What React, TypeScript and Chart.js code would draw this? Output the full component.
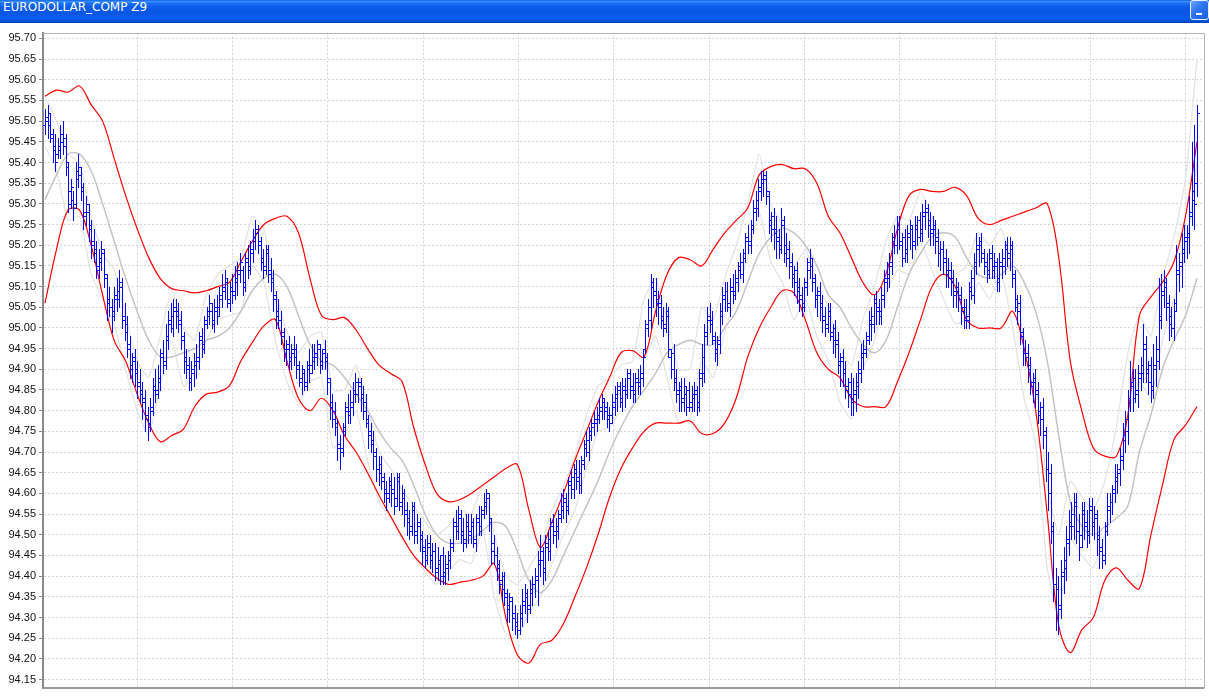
import React, { useEffect, useRef } from "react";
import { Chart, registerables } from "chart.js";
Chart.register(...registerables);

const title = "EURODOLLAR_COMP Z9";

const opens = [
  95.49, 95.50, 95.52, 95.46, 95.44, 95.42, 95.43, 95.47, 95.46, 95.39, 95.33, 95.31, 95.30, 95.36, 95.37,
  95.33, 95.28, 95.28, 95.24, 95.21, 95.19, 95.14, 95.16, 95.18, 95.12, 95.07, 95.05, 95.04, 95.07, 95.07,
  95.10, 95.03, 95.01, 94.95, 94.90, 94.92, 94.90, 94.87, 94.85, 94.83, 94.79, 94.77, 94.81, 94.86, 94.84,
  94.87, 94.94, 94.92, 94.97, 95.02, 95.00, 95.05, 95.04, 95.02, 94.97, 94.93, 94.91, 94.87, 94.89, 94.91,
  94.92, 94.98, 94.96, 95.02, 95.04, 95.04, 95.01, 95.04, 95.05, 95.07, 95.09, 95.11, 95.06, 95.10, 95.09,
  95.11, 95.14, 95.14, 95.11, 95.17, 95.15, 95.18, 95.21, 95.23, 95.21, 95.17, 95.15, 95.19, 95.14, 95.12,
  95.08, 95.04, 95.02, 94.99, 94.94, 94.96, 94.92, 94.95, 94.95, 94.91, 94.87, 94.89, 94.86, 94.91, 94.91,
  94.92, 94.93, 94.95, 94.91, 94.95, 94.93, 94.87, 94.82, 94.80, 94.76, 94.71, 94.71, 94.76, 94.81, 94.79,
  94.81, 94.85, 94.84, 94.87, 94.84, 94.82, 94.77, 94.75, 94.73, 94.70, 94.66, 94.67, 94.63, 94.60, 94.60,
  94.63, 94.61, 94.59, 94.64, 94.57, 94.59, 94.56, 94.54, 94.52, 94.57, 94.50, 94.52, 94.50, 94.47, 94.45,
  94.48, 94.44, 94.46, 94.41, 94.43, 94.45, 94.40, 94.42, 94.44, 94.48, 94.53, 94.51, 94.55, 94.51, 94.49,
  94.53, 94.50, 94.52, 94.48, 94.54, 94.52, 94.56, 94.57, 94.59, 94.53, 94.48, 94.45, 94.43, 94.38, 94.40,
  94.35, 94.32, 94.34, 94.31, 94.29, 94.27, 94.30, 94.33, 94.35, 94.33, 94.36, 94.38, 94.39, 94.44, 94.44,
  94.42, 94.48, 94.46, 94.53, 94.51, 94.51, 94.55, 94.56, 94.58, 94.57, 94.63, 94.61, 94.66, 94.64, 94.62,
  94.68, 94.72, 94.70, 94.75, 94.77, 94.77, 94.78, 94.80, 94.82, 94.81, 94.79, 94.79, 94.81, 94.83, 94.85,
  94.82, 94.85, 94.85, 94.89, 94.86, 94.84, 94.88, 94.87, 94.88, 94.95, 95.01, 95.02, 95.11, 95.09, 95.07,
  95.06, 95.03, 95.01, 95.03, 94.93, 94.94, 94.88, 94.84, 94.86, 94.82, 94.84, 94.85, 94.81, 94.83, 94.85,
  94.82, 94.89, 94.89, 94.98, 95.02, 95.02, 94.97, 94.94, 94.96, 95.03, 95.07, 95.09, 95.05, 95.09, 95.09,
  95.11, 95.15, 95.13, 95.18, 95.22, 95.20, 95.25, 95.29, 95.29, 95.33, 95.35, 95.37, 95.32, 95.25, 95.27,
  95.24, 95.22, 95.20, 95.25, 95.20, 95.19, 95.16, 95.12, 95.14, 95.10, 95.08, 95.06, 95.11, 95.16, 95.15,
  95.11, 95.07, 95.09, 95.06, 95.03, 95.01, 95.04, 94.98, 95.00, 94.97, 94.91, 94.93, 94.90, 94.85, 94.87,
  94.82, 94.84, 94.86, 94.89, 94.93, 94.95, 94.98, 95.01, 95.01, 95.07, 95.05, 95.03, 95.07, 95.12, 95.12,
  95.16, 95.22, 95.20, 95.25, 95.20, 95.22, 95.18, 95.22, 95.24, 95.21, 95.24, 95.26, 95.23, 95.27, 95.29,
  95.26, 95.24, 95.24, 95.22, 95.18, 95.19, 95.17, 95.14, 95.14, 95.12, 95.09, 95.09, 95.08, 95.05, 95.05,
  95.02, 95.10, 95.08, 95.15, 95.19, 95.21, 95.17, 95.16, 95.14, 95.18, 95.15, 95.15, 95.11, 95.15, 95.15,
  95.20, 95.17, 95.19, 95.12, 95.05, 95.06, 94.98, 94.95, 94.93, 94.91, 94.86, 94.88, 94.85, 94.79, 94.81,
  94.74, 94.66, 94.65, 94.51, 94.38, 94.37, 94.33, 94.40, 94.42, 94.48, 94.52, 94.52, 94.58, 94.51, 94.50,
  94.56, 94.53, 94.51, 94.57, 94.52, 94.54, 94.50, 94.47, 94.45, 94.52, 94.56, 94.58, 94.61, 94.63, 94.65,
  94.69, 94.73, 94.75, 94.83, 94.86, 94.88, 94.84, 94.89, 94.89, 94.96, 94.89, 94.91, 94.85, 94.91, 94.92,
  95.03, 95.08, 95.10, 95.06, 95.03, 95.00, 95.06, 95.13, 95.15, 95.18, 95.21, 95.23, 95.28, 95.33, 95.35,
];
const highs = [
  95.53, 95.54, 95.52, 95.48, 95.47, 95.46, 95.49, 95.50, 95.47, 95.40, 95.36, 95.33, 95.40, 95.42, 95.39,
  95.35, 95.32, 95.30, 95.26, 95.24, 95.21, 95.19, 95.21, 95.19, 95.13, 95.10, 95.07, 95.10, 95.12, 95.14,
  95.12, 95.06, 95.03, 94.98, 94.94, 94.95, 94.92, 94.90, 94.87, 94.85, 94.81, 94.83, 94.88, 94.90, 94.91,
  94.95, 94.97, 95.01, 95.04, 95.06, 95.07, 95.07, 95.06, 95.04, 94.99, 94.95, 94.93, 94.92, 94.94, 94.96,
  94.99, 95.00, 95.03, 95.05, 95.08, 95.06, 95.07, 95.08, 95.10, 95.13, 95.14, 95.12, 95.11, 95.13, 95.15,
  95.16, 95.18, 95.15, 95.18, 95.20, 95.21, 95.24, 95.26, 95.25, 95.22, 95.19, 95.20, 95.20, 95.17, 95.14,
  95.09, 95.07, 95.04, 95.00, 94.97, 94.98, 94.96, 94.98, 94.96, 94.92, 94.91, 94.90, 94.92, 94.95, 94.96,
  94.96, 94.97, 94.96, 94.95, 94.97, 94.94, 94.88, 94.84, 94.82, 94.78, 94.74, 94.77, 94.82, 94.84, 94.85,
  94.87, 94.89, 94.88, 94.88, 94.86, 94.84, 94.79, 94.77, 94.75, 94.71, 94.69, 94.69, 94.65, 94.63, 94.64,
  94.65, 94.64, 94.65, 94.65, 94.62, 94.61, 94.58, 94.56, 94.58, 94.58, 94.55, 94.54, 94.51, 94.49, 94.50,
  94.50, 94.48, 94.48, 94.47, 94.45, 94.47, 94.45, 94.46, 94.49, 94.54, 94.56, 94.57, 94.56, 94.54, 94.55,
  94.55, 94.55, 94.54, 94.55, 94.57, 94.57, 94.60, 94.61, 94.60, 94.54, 94.50, 94.47, 94.44, 94.41, 94.41,
  94.37, 94.36, 94.35, 94.33, 94.31, 94.33, 94.37, 94.38, 94.37, 94.39, 94.40, 94.42, 94.46, 94.50, 94.47,
  94.50, 94.51, 94.54, 94.55, 94.54, 94.56, 94.60, 94.61, 94.60, 94.64, 94.66, 94.67, 94.68, 94.68, 94.69,
  94.73, 94.75, 94.76, 94.78, 94.80, 94.81, 94.83, 94.84, 94.83, 94.82, 94.81, 94.84, 94.86, 94.87, 94.87,
  94.88, 94.88, 94.90, 94.90, 94.89, 94.89, 94.90, 94.91, 94.95, 95.02, 95.07, 95.13, 95.12, 95.12, 95.09,
  95.08, 95.05, 95.06, 95.05, 94.95, 94.96, 94.90, 94.87, 94.88, 94.88, 94.86, 94.87, 94.86, 94.87, 94.86,
  94.90, 94.96, 95.01, 95.05, 95.06, 95.04, 94.99, 94.98, 95.06, 95.10, 95.11, 95.11, 95.12, 95.13, 95.14,
  95.16, 95.18, 95.19, 95.23, 95.25, 95.26, 95.31, 95.33, 95.36, 95.38, 95.38, 95.38, 95.33, 95.28, 95.29,
  95.27, 95.24, 95.29, 95.27, 95.23, 95.21, 95.18, 95.15, 95.16, 95.12, 95.10, 95.12, 95.17, 95.19, 95.17,
  95.13, 95.10, 95.11, 95.08, 95.05, 95.06, 95.06, 95.01, 95.02, 94.99, 94.94, 94.95, 94.92, 94.88, 94.89,
  94.88, 94.89, 94.92, 94.96, 94.97, 94.99, 95.04, 95.05, 95.08, 95.09, 95.07, 95.10, 95.14, 95.16, 95.18,
  95.23, 95.25, 95.27, 95.27, 95.23, 95.24, 95.25, 95.26, 95.25, 95.27, 95.27, 95.28, 95.30, 95.31, 95.30,
  95.28, 95.27, 95.26, 95.24, 95.21, 95.21, 95.19, 95.17, 95.16, 95.14, 95.12, 95.11, 95.10, 95.07, 95.07,
  95.11, 95.14, 95.18, 95.23, 95.22, 95.23, 95.19, 95.18, 95.19, 95.20, 95.18, 95.17, 95.18, 95.19, 95.21,
  95.22, 95.22, 95.21, 95.14, 95.08, 95.08, 95.00, 94.97, 94.96, 94.93, 94.89, 94.90, 94.87, 94.82, 94.83,
  94.76, 94.70, 94.67, 94.53, 94.42, 94.40, 94.44, 94.47, 94.52, 94.56, 94.58, 94.60, 94.60, 94.55, 94.58,
  94.58, 94.56, 94.59, 94.59, 94.57, 94.56, 94.52, 94.49, 94.53, 94.60, 94.60, 94.62, 94.67, 94.67, 94.71,
  94.77, 94.80, 94.85, 94.92, 94.90, 94.90, 94.91, 94.93, 95.01, 94.98, 94.92, 94.93, 94.96, 94.98, 95.12,
  95.13, 95.14, 95.12, 95.08, 95.05, 95.07, 95.20, 95.18, 95.23, 95.25, 95.25, 95.32, 95.45, 95.49, 95.54,
];
const lows = [
  95.47, 95.46, 95.45, 95.40, 95.38, 95.41, 95.41, 95.42, 95.37, 95.28, 95.29, 95.26, 95.29, 95.34, 95.31,
  95.24, 95.25, 95.21, 95.17, 95.16, 95.12, 95.12, 95.14, 95.10, 95.02, 95.03, 94.99, 95.02, 95.04, 95.05,
  95.00, 94.97, 94.93, 94.88, 94.87, 94.86, 94.83, 94.82, 94.78, 94.75, 94.73, 94.75, 94.79, 94.82, 94.83,
  94.85, 94.89, 94.90, 94.95, 94.99, 94.98, 95.00, 94.99, 94.95, 94.89, 94.88, 94.85, 94.85, 94.86, 94.88,
  94.90, 94.93, 94.94, 95.00, 95.01, 95.00, 94.99, 95.01, 95.03, 95.05, 95.07, 95.05, 95.04, 95.06, 95.07,
  95.08, 95.11, 95.08, 95.09, 95.12, 95.13, 95.16, 95.19, 95.18, 95.14, 95.12, 95.13, 95.11, 95.09, 95.04,
  95.00, 95.00, 94.96, 94.92, 94.91, 94.90, 94.90, 94.91, 94.88, 94.86, 94.84, 94.85, 94.85, 94.87, 94.89,
  94.90, 94.91, 94.89, 94.90, 94.90, 94.84, 94.78, 94.76, 94.74, 94.68, 94.66, 94.69, 94.74, 94.77, 94.77,
  94.79, 94.82, 94.82, 94.80, 94.78, 94.76, 94.71, 94.70, 94.66, 94.63, 94.62, 94.61, 94.58, 94.56, 94.58,
  94.57, 94.55, 94.57, 94.56, 94.55, 94.52, 94.50, 94.49, 94.50, 94.48, 94.48, 94.46, 94.43, 94.42, 94.43,
  94.42, 94.41, 94.39, 94.39, 94.38, 94.38, 94.38, 94.39, 94.42, 94.46, 94.49, 94.49, 94.48, 94.46, 94.47,
  94.48, 94.48, 94.47, 94.46, 94.50, 94.50, 94.54, 94.55, 94.51, 94.43, 94.43, 94.39, 94.36, 94.34, 94.33,
  94.29, 94.29, 94.27, 94.26, 94.25, 94.26, 94.28, 94.31, 94.29, 94.31, 94.33, 94.35, 94.33, 94.40, 94.38,
  94.39, 94.44, 94.44, 94.48, 94.47, 94.49, 94.53, 94.54, 94.53, 94.55, 94.59, 94.59, 94.61, 94.60, 94.60,
  94.66, 94.69, 94.68, 94.73, 94.74, 94.75, 94.77, 94.78, 94.78, 94.76, 94.75, 94.77, 94.79, 94.80, 94.81,
  94.80, 94.81, 94.83, 94.83, 94.82, 94.82, 94.84, 94.84, 94.86, 94.94, 94.98, 95.00, 95.05, 95.03, 95.01,
  95.00, 94.98, 94.99, 94.93, 94.88, 94.85, 94.82, 94.80, 94.80, 94.80, 94.79, 94.80, 94.80, 94.80, 94.79,
  94.80, 94.86, 94.87, 94.96, 94.99, 94.96, 94.92, 94.91, 94.94, 95.01, 95.04, 95.04, 95.03, 95.06, 95.07,
  95.09, 95.12, 95.11, 95.16, 95.18, 95.18, 95.23, 95.26, 95.27, 95.31, 95.32, 95.30, 95.23, 95.21, 95.19,
  95.17, 95.17, 95.18, 95.16, 95.15, 95.12, 95.10, 95.08, 95.06, 95.04, 95.03, 95.04, 95.08, 95.12, 95.09,
  95.05, 95.03, 95.02, 94.99, 94.98, 94.99, 94.97, 94.94, 94.93, 94.89, 94.86, 94.86, 94.83, 94.81, 94.79,
  94.79, 94.80, 94.83, 94.87, 94.90, 94.93, 94.96, 94.97, 94.99, 95.01, 95.01, 95.01, 95.05, 95.09, 95.10,
  95.13, 95.18, 95.18, 95.19, 95.15, 95.16, 95.16, 95.19, 95.17, 95.19, 95.20, 95.21, 95.21, 95.24, 95.22,
  95.20, 95.20, 95.18, 95.15, 95.14, 95.13, 95.10, 95.10, 95.08, 95.05, 95.05, 95.04, 95.01, 95.00, 95.00,
  95.00, 95.07, 95.06, 95.13, 95.15, 95.16, 95.13, 95.11, 95.12, 95.12, 95.12, 95.09, 95.09, 95.12, 95.13,
  95.15, 95.14, 95.10, 95.04, 95.01, 94.96, 94.91, 94.91, 94.87, 94.84, 94.82, 94.81, 94.77, 94.74, 94.71,
  94.63, 94.56, 94.48, 94.34, 94.27, 94.26, 94.30, 94.36, 94.39, 94.45, 94.49, 94.49, 94.48, 94.44, 94.47,
  94.49, 94.47, 94.48, 94.50, 94.49, 94.45, 94.42, 94.42, 94.43, 94.50, 94.53, 94.55, 94.58, 94.60, 94.62,
  94.66, 94.70, 94.72, 94.80, 94.80, 94.82, 94.81, 94.85, 94.87, 94.87, 94.84, 94.82, 94.83, 94.86, 94.90,
  95.00, 95.05, 95.02, 94.97, 94.98, 94.97, 95.04, 95.09, 95.10, 95.16, 95.17, 95.18, 95.25, 95.24, 95.32,
];
const closes = [
  95.51, 95.49, 95.47, 95.43, 95.40, 95.44, 95.45, 95.44, 95.40, 95.30, 95.34, 95.29, 95.38, 95.39, 95.34,
  95.27, 95.30, 95.25, 95.20, 95.18, 95.15, 95.17, 95.19, 95.13, 95.06, 95.05, 95.03, 95.08, 95.09, 95.11,
  95.02, 94.99, 94.96, 94.91, 94.93, 94.89, 94.86, 94.84, 94.82, 94.78, 94.76, 94.80, 94.85, 94.85, 94.88,
  94.93, 94.91, 94.98, 95.01, 95.03, 95.04, 95.03, 95.01, 94.98, 94.92, 94.90, 94.88, 94.90, 94.92, 94.93,
  94.97, 94.95, 95.01, 95.03, 95.06, 95.02, 95.05, 95.03, 95.08, 95.10, 95.12, 95.07, 95.09, 95.08, 95.12,
  95.13, 95.16, 95.10, 95.16, 95.14, 95.19, 95.22, 95.24, 95.20, 95.16, 95.14, 95.18, 95.13, 95.11, 95.07,
  95.03, 95.02, 94.98, 94.95, 94.95, 94.93, 94.94, 94.93, 94.90, 94.88, 94.90, 94.87, 94.90, 94.89, 94.93,
  94.94, 94.96, 94.92, 94.94, 94.92, 94.88, 94.81, 94.78, 94.77, 94.72, 94.70, 94.75, 94.80, 94.80, 94.82,
  94.84, 94.87, 94.86, 94.83, 94.80, 94.78, 94.74, 94.72, 94.69, 94.66, 94.65, 94.64, 94.61, 94.59, 94.62,
  94.60, 94.57, 94.63, 94.58, 94.60, 94.55, 94.53, 94.51, 94.56, 94.51, 94.53, 94.49, 94.46, 94.44, 94.47,
  94.45, 94.46, 94.42, 94.44, 94.40, 94.41, 94.43, 94.45, 94.47, 94.52, 94.52, 94.54, 94.50, 94.48, 94.52,
  94.51, 94.53, 94.49, 94.53, 94.51, 94.55, 94.58, 94.60, 94.54, 94.46, 94.45, 94.42, 94.39, 94.37, 94.36,
  94.33, 94.35, 94.30, 94.28, 94.27, 94.31, 94.34, 94.36, 94.32, 94.37, 94.38, 94.40, 94.43, 94.46, 94.41,
  94.47, 94.49, 94.52, 94.50, 94.52, 94.54, 94.57, 94.59, 94.56, 94.62, 94.64, 94.65, 94.63, 94.65, 94.67,
  94.71, 94.73, 94.74, 94.76, 94.78, 94.79, 94.81, 94.83, 94.80, 94.78, 94.77, 94.82, 94.84, 94.86, 94.83,
  94.86, 94.84, 94.88, 94.85, 94.85, 94.87, 94.86, 94.89, 94.93, 95.00, 95.05, 95.10, 95.08, 95.06, 95.05,
  95.02, 95.00, 95.04, 94.95, 94.90, 94.87, 94.85, 94.85, 94.83, 94.86, 94.81, 94.82, 94.84, 94.84, 94.81,
  94.88, 94.93, 94.99, 95.03, 95.01, 94.98, 94.95, 94.97, 95.04, 95.08, 95.09, 95.06, 95.10, 95.08, 95.12,
  95.14, 95.16, 95.17, 95.21, 95.21, 95.24, 95.28, 95.31, 95.34, 95.36, 95.36, 95.33, 95.26, 95.24, 95.23,
  95.21, 95.19, 95.26, 95.18, 95.17, 95.15, 95.13, 95.11, 95.09, 95.07, 95.05, 95.10, 95.14, 95.17, 95.12,
  95.08, 95.08, 95.05, 95.02, 95.00, 95.03, 94.99, 94.97, 94.96, 94.92, 94.92, 94.89, 94.86, 94.84, 94.83,
  94.85, 94.87, 94.90, 94.94, 94.94, 94.97, 95.02, 95.03, 95.06, 95.04, 95.04, 95.08, 95.11, 95.13, 95.15,
  95.21, 95.20, 95.24, 95.21, 95.17, 95.19, 95.23, 95.25, 95.20, 95.25, 95.22, 95.24, 95.28, 95.28, 95.25,
  95.23, 95.25, 95.21, 95.18, 95.19, 95.16, 95.13, 95.12, 95.11, 95.08, 95.10, 95.07, 95.04, 95.02, 95.03,
  95.09, 95.12, 95.16, 95.20, 95.20, 95.18, 95.15, 95.13, 95.17, 95.14, 95.16, 95.12, 95.16, 95.17, 95.19,
  95.18, 95.20, 95.13, 95.07, 95.04, 94.99, 94.94, 94.94, 94.90, 94.87, 94.87, 94.84, 94.80, 94.78, 94.75,
  94.66, 94.60, 94.52, 94.38, 94.30, 94.32, 94.41, 94.44, 94.49, 94.53, 94.55, 94.57, 94.51, 94.47, 94.55,
  94.52, 94.50, 94.56, 94.53, 94.55, 94.49, 94.46, 94.44, 94.51, 94.57, 94.58, 94.60, 94.64, 94.66, 94.68,
  94.74, 94.78, 94.82, 94.87, 94.83, 94.85, 94.88, 94.91, 94.95, 94.90, 94.87, 94.86, 94.90, 94.95, 95.02,
  95.09, 95.11, 95.05, 95.01, 95.00, 95.04, 95.14, 95.16, 95.19, 95.22, 95.22, 95.27, 95.31, 95.30, 95.52,
];

const upperBand = [
  95.56, 95.575, 95.57, 95.585, 95.54, 95.50, 95.41, 95.32, 95.24, 95.17,
  95.12, 95.095, 95.09, 95.085, 95.09, 95.10, 95.11, 95.16, 95.21, 95.25,
  95.265, 95.27, 95.23, 95.12, 95.03, 95.02, 95.025, 94.995, 94.95, 94.91,
  94.89, 94.87, 94.76, 94.67, 94.60, 94.58, 94.585, 94.60, 94.62, 94.64,
  94.66, 94.67, 94.56, 94.47, 94.53, 94.60, 94.68, 94.75, 94.82, 94.88,
  94.94, 94.945, 94.93, 95.04, 95.13, 95.17, 95.165, 95.15, 95.19, 95.23,
  95.26, 95.29, 95.37, 95.39, 95.395, 95.385, 95.385, 95.35, 95.27, 95.23,
  95.17, 95.11, 95.08, 95.13, 95.24, 95.32, 95.335, 95.33, 95.33, 95.34,
  95.32, 95.265, 95.25, 95.26, 95.27, 95.28, 95.29, 95.30, 95.17, 94.92,
  94.80, 94.71, 94.69, 94.69, 94.79, 95.03, 95.075, 95.11, 95.16, 95.27,
  95.45,
];
const lowerBand = [
  95.06, 95.19, 95.285, 95.285, 95.20, 95.08, 94.97, 94.92, 94.84, 94.77,
  94.725, 94.74, 94.755, 94.81, 94.84, 94.845, 94.86, 94.92, 94.965, 95.005,
  95.02, 94.92, 94.83, 94.80, 94.83, 94.80, 94.74, 94.70, 94.65, 94.595,
  94.545, 94.495, 94.45, 94.42, 94.395, 94.38, 94.385, 94.39, 94.40, 94.43,
  94.30, 94.21, 94.19, 94.235, 94.245, 94.285, 94.35, 94.42, 94.50, 94.59,
  94.66, 94.71, 94.75, 94.77, 94.77, 94.77, 94.775, 94.745, 94.745, 94.77,
  94.83, 94.93, 95.00, 95.05, 95.09, 95.085, 95.02, 94.94, 94.90, 94.88,
  94.83, 94.81, 94.81, 94.81, 94.87, 94.94, 95.02, 95.10, 95.13, 95.10,
  95.02, 95.00, 95.00, 95.00, 95.04, 94.95, 94.80, 94.55, 94.28, 94.215,
  94.27, 94.30, 94.39, 94.42, 94.39, 94.37, 94.50, 94.62, 94.73, 94.765,
  94.81,
];
const midBand = [
  95.31, 95.37, 95.42, 95.42, 95.38, 95.30, 95.21, 95.12, 95.04, 94.97,
  94.93, 94.93, 94.94, 94.95, 94.97, 94.98, 95.00, 95.04, 95.09, 95.12,
  95.13, 95.10, 95.03, 94.96, 94.92, 94.91, 94.88, 94.84, 94.80, 94.75,
  94.71, 94.68, 94.62, 94.55, 94.50, 94.48, 94.48, 94.49, 94.51, 94.53,
  94.52, 94.46, 94.39, 94.36, 94.39, 94.45, 94.51, 94.57, 94.63, 94.70,
  94.76, 94.81, 94.85, 94.89, 94.94, 94.96, 94.97, 94.96, 94.96, 95.00,
  95.04, 95.11, 95.18, 95.22, 95.24, 95.23, 95.20, 95.15, 95.08, 95.05,
  95.00, 94.96, 94.94, 94.97, 95.05, 95.13, 95.18, 95.22, 95.23, 95.22,
  95.17, 95.13, 95.12, 95.13, 95.15, 95.11, 95.04, 94.92, 94.74, 94.58,
  94.52, 94.50, 94.52, 94.54, 94.57, 94.70, 94.79, 94.90, 94.97, 95.03,
  95.12,
];
const lightHigh = [
  95.56, 95.50, 95.42, 95.40, 95.27, 95.18, 95.14, 95.03, 94.92, 94.88,
  94.98, 95.09, 95.00, 94.97, 95.08, 95.13, 95.15, 95.17, 95.27, 95.24,
  95.09, 94.99, 94.94, 94.98, 94.99, 94.85, 94.85, 94.91, 94.81, 94.70,
  94.66, 94.61, 94.57, 94.53, 94.50, 94.52, 94.56, 94.55, 94.62, 94.50,
  94.40, 94.38, 94.42, 94.47, 94.56, 94.62, 94.69, 94.79, 94.86, 94.88,
  94.91, 94.92, 95.07, 95.12, 95.02, 94.90, 94.90, 95.05, 95.02, 95.12,
  95.20, 95.30, 95.42, 95.30, 95.25, 95.15, 95.19, 95.11, 95.05, 94.95,
  94.91, 95.02, 95.10, 95.21, 95.27, 95.26, 95.33, 95.27, 95.19, 95.13,
  95.15, 95.23, 95.20, 95.24, 95.14, 94.97, 94.87, 94.62, 94.50, 94.63,
  94.59, 94.56, 94.63, 94.76, 94.94, 95.03, 94.98, 95.12, 95.22, 95.36,
  95.65,
];
const lightLow = [
  95.44, 95.38, 95.26, 95.27, 95.13, 95.07, 95.01, 94.90, 94.80, 94.74,
  94.86, 94.97, 94.86, 94.88, 94.97, 95.02, 95.03, 95.04, 95.15, 95.11,
  94.97, 94.87, 94.82, 94.87, 94.88, 94.71, 94.74, 94.80, 94.68, 94.58,
  94.54, 94.49, 94.45, 94.41, 94.38, 94.41, 94.44, 94.43, 94.51, 94.35,
  94.26, 94.25, 94.31, 94.35, 94.43, 94.50, 94.56, 94.66, 94.75, 94.76,
  94.80, 94.81, 94.92, 94.98, 94.88, 94.77, 94.78, 94.92, 94.88, 94.99,
  95.08, 95.17, 95.28, 95.16, 95.11, 95.02, 95.07, 94.98, 94.92, 94.82,
  94.78, 94.90, 94.97, 95.08, 95.14, 95.13, 95.21, 95.14, 95.07, 95.01,
  95.02, 95.11, 95.07, 95.13, 95.00, 94.83, 94.72, 94.42, 94.30, 94.49,
  94.45, 94.42, 94.50, 94.60, 94.79, 94.87, 94.83, 94.97, 95.07, 95.18,
  95.40,
];

const yTicks = [
  94.15, 94.2, 94.25, 94.3, 94.35, 94.4, 94.45, 94.5, 94.55, 94.6, 94.65,
  94.7, 94.75, 94.8, 94.85, 94.9, 94.95, 95.0, 95.05, 95.1, 95.15, 95.2,
  95.25, 95.3, 95.35, 95.4, 95.45, 95.5, 95.55, 95.6, 95.65, 95.7,
];
// vertical grid lines (every two months), in bar-index units
const monthTicks = [36, 73.1, 110.3, 147.4, 184.5, 221.7, 258.8, 296, 333.1, 370.3, 407.4, 444.6];

export default function App() {
  const ref = useRef<HTMLCanvasElement>(null);

  useEffect(() => {
    document.body.style.margin = "0";
    const N = closes.length;
    const toXY = (arr: number[]) =>
      arr.map((v, k) => ({ x: (k * (N - 1)) / (arr.length - 1), y: v }));

    const ohlcPlugin = {
      id: "ohlc",
      afterDatasetsDraw(chart: any) {
        const { ctx, chartArea } = chart;
        const xs = chart.scales.x;
        const ys = chart.scales.y;
        ctx.save();
        ctx.beginPath();
        ctx.rect(chartArea.left, chartArea.top, chartArea.width, chartArea.height);
        ctx.clip();
        ctx.lineWidth = 1;
        ctx.strokeStyle = "#0000ff";
        ctx.beginPath();
        for (let i = 0; i < N; i++) {
          const px = Math.round(xs.getPixelForValue(i)) + 0.5;
          const yh = Math.round(ys.getPixelForValue(highs[i]));
          const yl = Math.round(ys.getPixelForValue(lows[i]));
          const yo = Math.round(ys.getPixelForValue(opens[i])) + 0.5;
          const yc = Math.round(ys.getPixelForValue(closes[i])) + 0.5;
          ctx.moveTo(px, yh);
          ctx.lineTo(px, yl + 1);
          ctx.moveTo(px - 2.5, yo);
          ctx.lineTo(px, yo);
          ctx.moveTo(px, yc);
          ctx.lineTo(px + 2.5, yc);
        }
        ctx.stroke();
        ctx.restore();
      },
    };

    const framePlugin = {
      id: "frame",
      afterDraw(chart: any) {
        const { ctx, chartArea: a } = chart;
        ctx.save();
        ctx.strokeStyle = "#b4b4b4";
        ctx.lineWidth = 1;
        ctx.beginPath();
        ctx.moveTo(a.left, Math.round(a.top) + 0.5);
        ctx.lineTo(Math.round(a.right) + 0.5, Math.round(a.top) + 0.5);
        ctx.lineTo(Math.round(a.right) + 0.5, Math.round(a.bottom) + 0.5);
        ctx.stroke();
        ctx.strokeStyle = "#9a9a9a";
        ctx.lineWidth = 2;
        ctx.beginPath();
        ctx.moveTo(a.left, Math.round(a.bottom));
        ctx.lineTo(a.right, Math.round(a.bottom));
        ctx.stroke();
        ctx.restore();
      },
    };

    const line = (data: number[], color: string, width: number, order: number, tension: number) => ({
      type: "line" as const,
      data: toXY(data),
      borderColor: color,
      borderWidth: width,
      pointRadius: 0,
      tension,
      fill: false,
      order,
    });

    const chart = new Chart(ref.current as HTMLCanvasElement, {
      type: "line",
      data: {
        datasets: [
          line(lightHigh, "#e2e2e2", 1.2, 5, 0.15),
          line(lightLow, "#e2e2e2", 1.2, 5, 0.15),
          line(midBand, "#c4c4c4", 1.5, 4, 0.35),
          line(upperBand, "#ff0000", 1.2, 1, 0.35),
          line(lowerBand, "#ff0000", 1.2, 1, 0.35),
        ] as any,
      },
      options: {
        animation: false,
        responsive: false,
        events: [],
        layout: { padding: { top: 5, right: 5, bottom: 3, left: 0 } },
        plugins: { legend: { display: false }, tooltip: { enabled: false } },
        scales: {
          x: {
            type: "linear",
            min: -0.78,
            max: 451.73,
            ticks: { display: false },
            grid: { color: "#d4d4d4", drawTicks: false },
            border: { display: false, dash: [2, 2] },
            afterBuildTicks: (s: any) => {
              s.ticks = monthTicks.map((v) => ({ value: v }));
            },
            afterFit: (s: any) => {
              s.height = 0;
            },
          },
          y: {
            type: "linear",
            min: 94.1286,
            max: 95.714,
            afterBuildTicks: (s: any) => {
              s.ticks = yTicks.map((v) => ({ value: v }));
            },
            afterFit: (s: any) => {
              s.width = 43;
            },
            ticks: {
              autoSkip: false,
              padding: 3,
              color: "#111111",
              font: { family: "'Liberation Sans', Arial, sans-serif", size: 11 },
              callback: (v: any) => Number(v).toFixed(2),
            },
            grid: {
              color: "#d4d4d4",
              tickColor: "#8a8a8a",
              tickLength: 4,
              tickBorderDash: [],
            },
            border: { display: true, color: "#8a8a8a", width: 2, dash: [2, 2] },
          },
        },
      } as any,
      plugins: [ohlcPlugin, framePlugin],
    });
    return () => chart.destroy();
  }, []);

  return (
    <div style={{ position: "relative", width: 1209, height: 698, background: "#ffffff", overflow: "hidden" }}>
      <div
        style={{
          position: "absolute",
          left: 0,
          top: 0,
          width: 1209,
          height: 23,
          background:
            "linear-gradient(#0a5fe8 0%, #3c8dff 6%, #1a72f5 14%, #0a5ce8 30%, #0857e4 60%, #0a5ff0 80%, #0650d8 92%, #043fb0 100%)",
        }}
      >
        <span
          style={{
            position: "absolute",
            left: 3,
            top: 0,
            lineHeight: "23px",
            color: "#ffffff",
            font: "12px 'DejaVu Sans', sans-serif",
            whiteSpace: "nowrap",
          }}
        >
          {title}
        </span>
        <div
          style={{
            position: "absolute",
            left: 1190,
            top: 0,
            width: 19,
            height: 20,
            boxSizing: "border-box",
            border: "1px solid #e8efff",
            borderRadius: 3,
            background: "linear-gradient(135deg, #6aa3ff 0%, #2e74f2 45%, #1a5fe0 100%)",
          }}
        >
          <div style={{ position: "absolute", left: 5, top: 12, width: 6, height: 2, background: "#ffffff" }} />
        </div>
      </div>
      <div style={{ position: "absolute", left: 0, top: 23, width: 1209, height: 675 }}>
        <canvas ref={ref} width={1209} height={675} style={{ display: "block" }} />
      </div>
    </div>
  );
}
